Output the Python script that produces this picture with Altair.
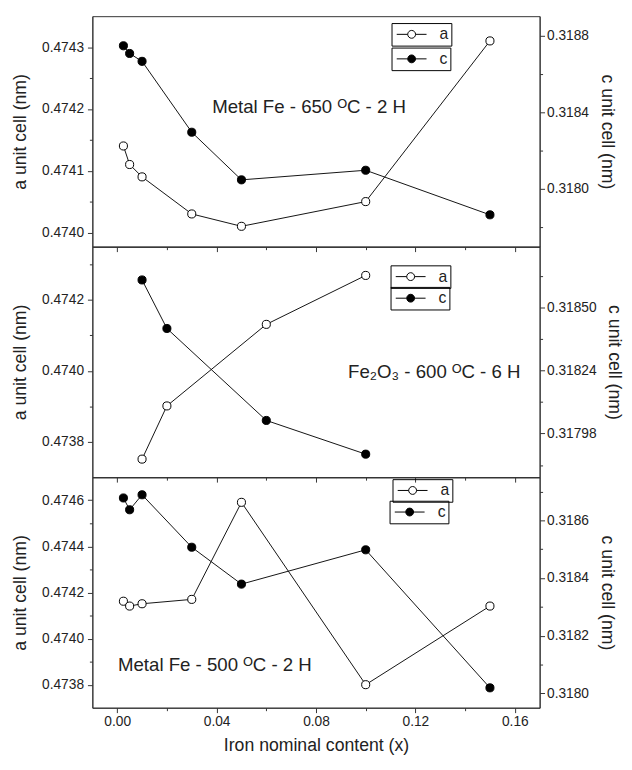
import json
import altair as alt
import pandas as pd

# ---------------- data ----------------
x_fe650 = [0.0025, 0.005, 0.01, 0.03, 0.05, 0.10, 0.15]
a_fe650 = [0.47414, 0.47411, 0.47409, 0.47403, 0.47401, 0.47405, 0.47431]
c_fe650 = [0.318746, 0.318706, 0.318665, 0.318296, 0.318048, 0.318098, 0.317866]

x_fe2o3 = [0.01, 0.02, 0.06, 0.10]
a_fe2o3 = [0.473751, 0.473901, 0.474131, 0.474269]
c_fe2o3 = [0.318613, 0.318413, 0.318034, 0.317895]

x_fe500 = [0.0025, 0.005, 0.01, 0.03, 0.05, 0.10, 0.15]
a_fe500 = [0.474162, 0.474141, 0.474151, 0.47417, 0.474591, 0.4738, 0.474141]
c_fe500 = [0.318678, 0.318637, 0.318689, 0.318507, 0.318379, 0.318498, 0.318019]

x_major = [0.0, 0.04, 0.08, 0.12, 0.16]
x_minor = [0.02, 0.06, 0.10, 0.14]

notes = [
    "Metal Fe - 650 \u1d3cC - 2 H",
    "Fe\u2082O\u2083 - 600 \u1d3cC - 6 H",
    "Metal Fe - 500 \u1d3cC - 2 H",
]

# ---------------- styling ----------------
FONT = "Liberation Sans"
INK = "#222222"
FRAME = "#333333"
W, H = 456, 235
X_DOMAIN = [-0.01, 0.17]

# line-circle-line legend glyph (wider than the nominal symbol box)
LEGEND_PATH = ("M-1.9,0H-0.5M0.5,0H1.9"
               "M0.5,0A0.5,0.5,0,1,1,-0.5,0A0.5,0.5,0,1,1,0.5,0Z")


def axis(orient, major, minor, fmt, title=None, labels=True, title_pad=10, label_pad=2):
    values = sorted(major + minor)
    test = f"indexof({json.dumps(major)}, datum.value) >= 0"
    return alt.Axis(
        orient=orient,
        values=values,
        format=fmt,
        labels=labels,
        labelExpr=f"{test} ? datum.label : ''",
        labelOverlap=False,
        labelPadding=label_pad,
        tickSize={"condition": {"test": test, "value": 5}, "value": 3},
        titlePadding=title_pad,
        grid=False,
        title=title,
    )


def legend(x, y):
    return alt.Legend(
        title=None, orient="none", legendX=x, legendY=y,
        symbolType=LEGEND_PATH, symbolSize=256, symbolOffset=9,
        symbolStrokeColor="black", symbolStrokeWidth=1,
        strokeColor="black", padding=3,
        labelFont=FONT, labelFontSize=16, labelColor=INK,
        labelOffset=20, labelExpr="datum.label + '\u00a0\u00a0'",
    )


def panel(xs, avals, cvals, adom, a_major, a_minor, a_fmt,
          cdom, c_major, c_minor, c_fmt, note, note_x, note_y,
          leg_a, leg_c, bottom):
    df = pd.DataFrame({"x": xs, "a": avals, "c": cvals})
    if bottom:
        xax = axis("bottom", x_major, x_minor, ".2f",
                   title="Iron nominal content (x)", labels=True, title_pad=9)
    else:
        xax = axis("bottom", x_major, x_minor, ".2f", labels=False)
    xenc = alt.X("x:Q", scale=alt.Scale(domain=X_DOMAIN, nice=False, zero=False), axis=xax)

    left_ax = axis("left", a_major, a_minor, a_fmt, title="a unit cell (nm)",
                   title_pad=12, label_pad=4)
    right_ax = axis("right", c_major, c_minor, c_fmt, title="c unit cell (nm)",
                    title_pad=9, label_pad=2)
    ya = alt.Y("a:Q", scale=alt.Scale(domain=adom, nice=False, zero=False), axis=left_ax)
    yc = alt.Y("c:Q", scale=alt.Scale(domain=cdom, nice=False, zero=False), axis=right_ax)

    base = alt.Chart(df)
    a_line = base.mark_line(color="#111111", strokeWidth=1).encode(x=xenc, y=ya)
    a_pts = base.transform_calculate(series="'a'").mark_point(
        filled=True, size=68, stroke="black", strokeWidth=1, opacity=1
    ).encode(x=xenc, y=ya, fill=alt.Fill(
        "series:N", scale=alt.Scale(domain=["a"], range=["white"]), legend=legend(*leg_a)))
    note_df = pd.DataFrame({"x": [note_x], "a": [note_y], "t": [note]})
    a_note = alt.Chart(note_df).mark_text(
        font=FONT, fontSize=19, color=INK, align="center", baseline="middle"
    ).encode(x=xenc, y=ya, text="t:N")
    a_group = alt.layer(a_line, a_pts, a_note)

    c_line = base.mark_line(color="#111111", strokeWidth=1).encode(x=xenc, y=yc)
    c_pts = base.transform_calculate(series="'c'").mark_point(
        filled=True, size=68, stroke="black", strokeWidth=1, opacity=1
    ).encode(x=xenc, y=yc, fill=alt.Fill(
        "series:N", scale=alt.Scale(domain=["c"], range=["black"]), legend=legend(*leg_c)))
    c_group = alt.layer(c_line, c_pts)

    return alt.layer(a_group, c_group).resolve_scale(
        y="independent", fill="independent"
    ).properties(width=W, height=H)


p1 = panel(x_fe650, a_fe650, c_fe650,
           [0.473977, 0.47435], [0.474, 0.4741, 0.4742, 0.4743], [0.47405, 0.47415, 0.47425], ".4f",
           [0.3177, 0.3189], [0.318, 0.3184, 0.3188], [0.3178, 0.3182, 0.3186], ".4f",
           notes[0], 0.0772, 0.474203, (305, 7), (305, 32), False)
p2 = panel(x_fe2o3, a_fe2o3, c_fe2o3,
           [0.4737, 0.47435], [0.4738, 0.474, 0.4742], [0.4739, 0.4741, 0.4743], ".4f",
           [0.3178, 0.31875], [0.31798, 0.31824, 0.3185], [0.31785, 0.31811, 0.31837, 0.31863], ".5f",
           notes[1], 0.1276, 0.473996, (304, 19), (304, 41), False)
p3 = panel(x_fe500, a_fe500, c_fe500,
           [0.4737, 0.4747], [0.4738, 0.474, 0.4742, 0.4744, 0.4746], [0.4739, 0.4741, 0.4743, 0.4745], ".4f",
           [0.31795, 0.31875], [0.318, 0.3182, 0.3184, 0.3186], [0.3181, 0.3183, 0.3185, 0.3187], ".4f",
           notes[2], 0.0393, 0.473885, (306, 2), (303, 24), True)

chart = alt.vconcat(p1, p2, p3, spacing=0, bounds="flush").properties(
    padding={"left": 3, "top": 0, "right": 0, "bottom": 0}
).configure_view(
    stroke=FRAME, strokeWidth=1
).configure_axis(
    labelFont=FONT, labelFontSize=14, labelColor=INK,
    titleFont=FONT, titleFontSize=18, titleFontWeight="normal", titleColor=INK,
    domainColor=FRAME, tickColor=FRAME, domainWidth=1, tickWidth=1,
)

chart.save("out.html", embed_options={"renderer": "svg", "actions": False})
